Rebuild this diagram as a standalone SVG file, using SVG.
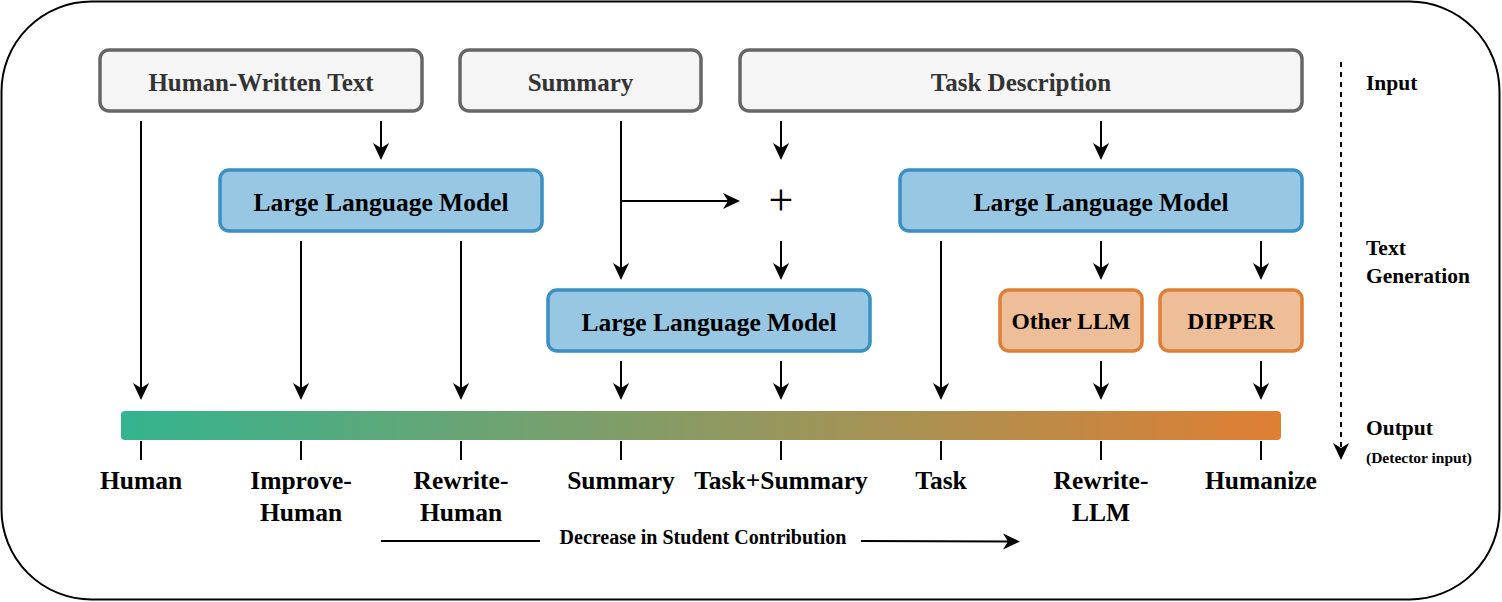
<svg xmlns="http://www.w3.org/2000/svg" width="1502" height="602" viewBox="0 0 1502 602">
<style>
  .frame{fill:#fff;stroke:#000;stroke-width:2}
  .in rect{fill:#f5f5f5;stroke:#666;stroke-width:3.5}
  .llm rect{fill:#98c7e3;stroke:#3a8fc3;stroke-width:3.5}
  .alt rect{fill:#eebe98;stroke:#de7f35;stroke-width:3.5}
  text{font-family:"Liberation Serif","Times New Roman",serif;font-weight:bold;text-anchor:middle}
  .in text{fill:#333;font-size:25px}
  .llm text{fill:#000;font-size:25.5px}
  .alt text{fill:#000;font-size:23.5px}
  .lbl{fill:#000;font-size:25.5px}
  .side{fill:#000;font-size:21.5px;text-anchor:start}
  .side2{fill:#000;font-size:15.5px;text-anchor:start}
  .plus{fill:#000;font-size:44px;font-weight:normal}
  .conn line,.conn path{stroke:#000;stroke-width:2;fill:none}
  .arr{marker-end:url(#ah)}
  .dash{stroke-dasharray:5 5}
</style>
<defs>
  <linearGradient id="grad" x1="0" y1="0" x2="1" y2="0">
    <stop offset="0" stop-color="#33b48f"/>
    <stop offset="0.5" stop-color="#8c9a62"/>
    <stop offset="1" stop-color="#df7f33"/>
  </linearGradient>
  <marker id="ah" markerUnits="userSpaceOnUse" viewBox="-20 -10 22 20" markerWidth="22" markerHeight="20" refX="-12" refY="0" orient="auto">
    <path d="M0,0 L-17,-8 L-12,0 L-17,8 Z" fill="#000"/>
  </marker>
</defs>

<rect class="frame" x="1.5" y="1.5" width="1498" height="598" rx="90" ry="90"/>

<g id="input-human" class="in"><rect x="100" y="50" width="322" height="61" rx="9"/><text x="261" y="91">Human-Written Text</text></g>
<g id="input-summary" class="in"><rect x="460" y="50" width="241" height="61" rx="9"/><text x="580.5" y="91">Summary</text></g>
<g id="input-task" class="in"><rect x="740" y="50" width="562" height="61" rx="9"/><text x="1021" y="91">Task Description</text></g>

<g id="llm-1" class="llm"><rect x="220" y="170" width="322" height="61" rx="9"/><text x="381" y="211">Large Language Model</text></g>
<g id="llm-2" class="llm"><rect x="548" y="290" width="322" height="61" rx="9"/><text x="709" y="331">Large Language Model</text></g>
<g id="llm-3" class="llm"><rect x="900" y="170" width="402" height="61" rx="9"/><text x="1101" y="211">Large Language Model</text></g>

<g id="other-llm" class="alt"><rect x="1000" y="290" width="142" height="61" rx="9"/><text x="1071" y="329">Other LLM</text></g>
<g id="dipper" class="alt"><rect x="1160" y="290" width="142" height="61" rx="9"/><text x="1231" y="329">DIPPER</text></g>

<g id="plus"><text class="plus" x="781" y="215">+</text></g>

<g id="spectrum">
  <rect x="121" y="411" width="1160" height="29" rx="4" fill="url(#grad)"/>
</g>

<g class="conn" id="connectors">
  <line class="arr" x1="141" y1="121" x2="141" y2="388"/>
  <line class="arr" x1="381" y1="121" x2="381" y2="148"/>
  <line class="arr" x1="301" y1="241" x2="301" y2="388"/>
  <line class="arr" x1="461" y1="241" x2="461" y2="388"/>
  <line class="arr" x1="621" y1="121" x2="621" y2="268"/>
  <line class="arr" x1="621" y1="201" x2="728" y2="201"/>
  <line class="arr" x1="781" y1="121" x2="781" y2="148"/>
  <line class="arr" x1="781" y1="241" x2="781" y2="268"/>
  <line class="arr" x1="621" y1="361" x2="621" y2="388"/>
  <line class="arr" x1="781" y1="361" x2="781" y2="388"/>
  <line class="arr" x1="941" y1="241" x2="941" y2="388"/>
  <line class="arr" x1="1101" y1="121" x2="1101" y2="148"/>
  <line class="arr" x1="1101" y1="241" x2="1101" y2="268"/>
  <line class="arr" x1="1101" y1="361" x2="1101" y2="388"/>
  <line class="arr" x1="1261" y1="241" x2="1261" y2="268"/>
  <line class="arr" x1="1261" y1="361" x2="1261" y2="388"/>
  <line x1="141" y1="441" x2="141" y2="460"/>
  <line x1="301" y1="441" x2="301" y2="460"/>
  <line x1="461" y1="441" x2="461" y2="460"/>
  <line x1="621" y1="441" x2="621" y2="460"/>
  <line x1="781" y1="441" x2="781" y2="460"/>
  <line x1="941" y1="441" x2="941" y2="460"/>
  <line x1="1101" y1="441" x2="1101" y2="460"/>
  <line x1="1261" y1="441" x2="1261" y2="460"/>
  <line class="arr dash" x1="1341" y1="62" x2="1341" y2="448"/>
  <line x1="381" y1="541" x2="540" y2="541"/>
  <line class="arr" x1="861" y1="541" x2="1008" y2="541.5"/>
</g>

<g id="labels">
  <text class="lbl" x="141" y="489">Human</text>
  <text class="lbl" x="301" y="489">Improve-</text>
  <text class="lbl" x="301" y="521">Human</text>
  <text class="lbl" x="461" y="489">Rewrite-</text>
  <text class="lbl" x="461" y="521">Human</text>
  <text class="lbl" x="621" y="489">Summary</text>
  <text class="lbl" x="781" y="489">Task+Summary</text>
  <text class="lbl" x="941" y="489">Task</text>
  <text class="lbl" x="1101" y="489">Rewrite-</text>
  <text class="lbl" x="1101" y="521">LLM</text>
  <text class="lbl" x="1261" y="489">Humanize</text>
  <text x="703" y="544" style="font-size:20px;fill:#000">Decrease in Student Contribution</text>
  <text class="side" x="1366" y="90">Input</text>
  <text class="side" x="1366" y="255">Text</text>
  <text class="side" x="1366" y="283">Generation</text>
  <text class="side" x="1366" y="435">Output</text>
  <text class="side2" x="1366" y="463">(Detector input)</text>
</g>
</svg>
